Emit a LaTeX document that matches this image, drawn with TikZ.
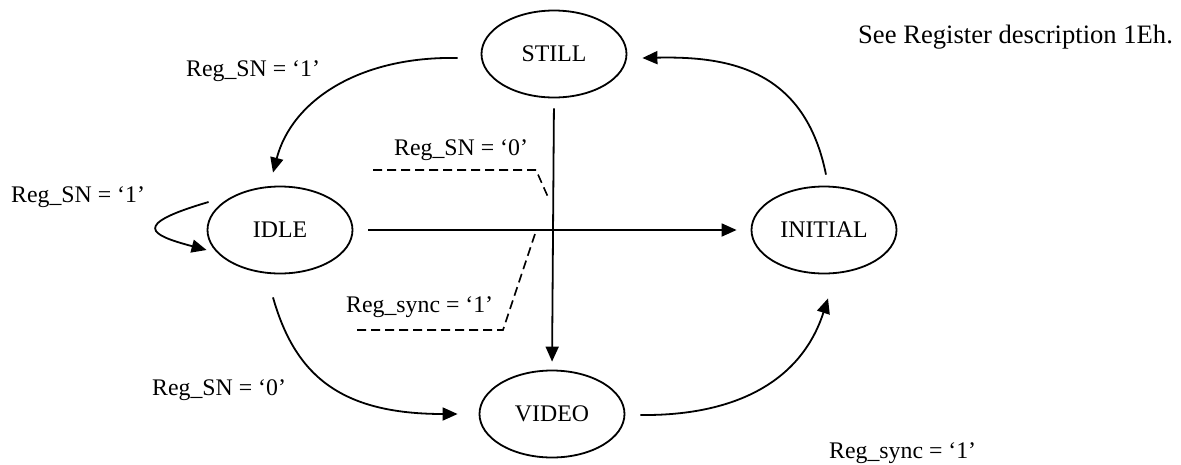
\documentclass[tikz,border=0pt]{standalone}
\usepackage{fontspec}
\setmainfont{Liberation Serif}
\usetikzlibrary{shapes.geometric,arrows.meta}

\tikzset{
  state/.style={ellipse, draw, line width=1.8pt, minimum width=145pt,
    minimum height=87pt, inner sep=0pt, font=\fontsize{23.8}{28}\selectfont},
  trans/.style={line width=1.8pt, -{Triangle[length=15pt,width=13pt]}},
  guard/.style={line width=1.6pt, dash pattern=on 9pt off 5pt},
  cond/.style={anchor=base west, inner sep=0pt, font=\fontsize{23.8}{28}\selectfont},
  note/.style={anchor=base west, inner sep=0pt, font=\fontsize{26.6}{31}\selectfont}
}

\begin{document}
\begin{tikzpicture}[x=1pt, y=-1pt]
\useasboundingbox (0,0) rectangle (1181,464);

% states
\node[state] (still)   at (554,54)  {STILL};
\node[state] (idle)    at (280,230) {IDLE};
\node[state] (initial) at (824,230) {INITIAL};
\node[state] (video)   at (552,414) {VIDEO};

% transitions
\draw[trans] ([shift={(-23,4)}]still.west)
  .. controls (360,56) and (292,100) .. ([shift={(-7,-13)}]idle.north);
\draw[trans] ([shift={(2,-28)}]idle.west)
  .. controls (130,225) and (150,235) .. ([shift={(0,20)}]idle.west);
\draw[trans, shorten <=10pt, shorten >=8pt] (still.south) -- (video.north);
\draw[trans, shorten <=15pt, shorten >=14pt] (idle.east) -- (initial.west);
\draw[trans] ([shift={(2,-11)}]initial.north)
  .. controls (805,70) and (730,56) .. ([shift={(15,4)}]still.east);
\draw[trans] ([shift={(-7,23)}]idle.south)
  .. controls (295,375) and (340,414) .. ([shift={(-21,0)}]video.west);
\draw[trans] ([shift={(15,1)}]video.east)
  .. controls (730,416) and (800,385) .. ([shift={(4,24)}]initial.south);

% guard brackets round the crossing
\draw[guard] (373,170) -- (536,170) -- (548,197);
\draw[guard] (535,234) -- (503,330) -- (357,330);

% conditions
\node[cond] (c1) at (186,76)  {Reg\_SN = ‘1’};
\node[cond] (c2) at (11,202)  {Reg\_SN = ‘1’};
\node[cond] (c3) at (394,155) {Reg\_SN = ‘0’};
\node[cond] (c4) at (346,312) {Reg\_sync = ‘1’};
\node[cond] (c5) at (152,395) {Reg\_SN = ‘0’};
\node[cond] (c6) at (829,458) {Reg\_sync = ‘1’};
\node[note] (n1) at (858,43)  {See Register description 1Eh.};
\end{tikzpicture}
\end{document}
